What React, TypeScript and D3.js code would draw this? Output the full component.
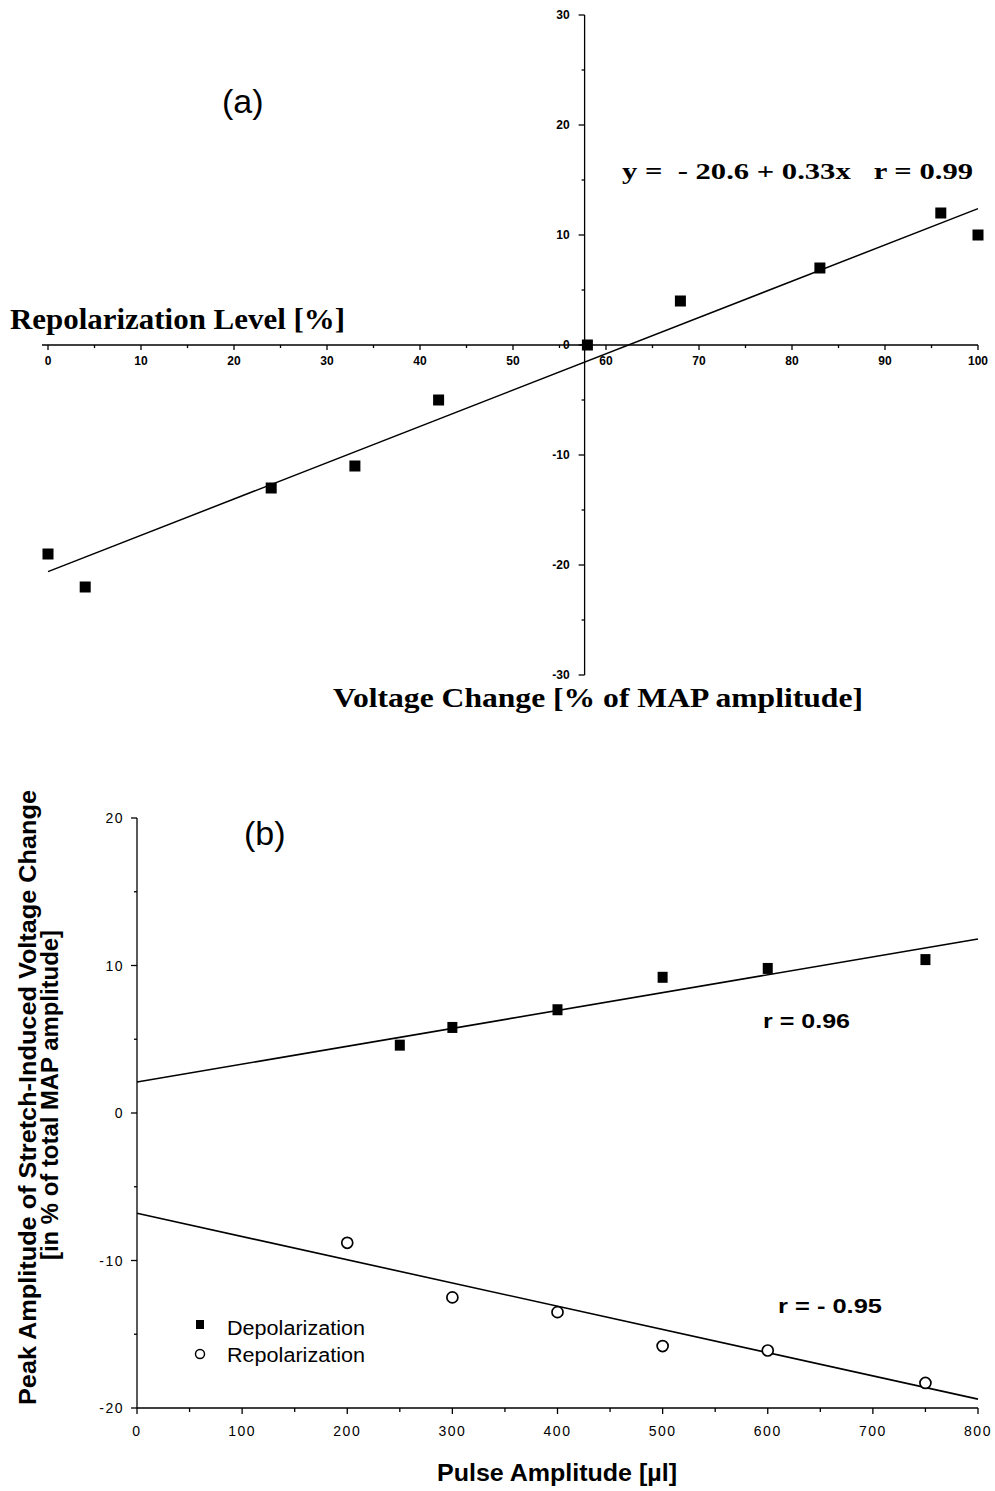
import React from 'react';
import * as d3 from 'd3';

// panel (a)
const voltX = [0, 4, 24, 33, 42, 58, 68, 83, 96, 100];
const repolLevel = [-19, -22, -13, -11, -5, 0, 4, 7, 12, 10];
const fitAX = [0, 100];
const fitAY = [-20.6, 12.4];
const aXTicks = [0, 10, 20, 30, 40, 50, 60, 70, 80, 90, 100];
const aYTicks = [-30, -20, -10, 0, 10, 20, 30];
const aYAxisAt = 57.7;

// panel (b)
const depolX = [250, 300, 400, 500, 600, 750];
const depolY = [4.6, 5.8, 7.0, 9.2, 9.8, 10.4];
const repolX = [200, 300, 400, 500, 600, 750];
const repolY = [-8.8, -12.5, -13.5, -15.8, -16.1, -18.3];
const fitBX = [0, 800];
const depolFit = [2.1, 11.8];
const repolFit = [-6.8, -19.4];
const bXTicks = [0, 100, 200, 300, 400, 500, 600, 700, 800];
const bYTicks = [-20, -10, 0, 10, 20];

const SERIF = '"Liberation Serif", "Times New Roman", serif';
const SANS = '"Liberation Sans", Arial, Helvetica, sans-serif';

const App = () => {
  const W = 995;
  const H = 1491;

  const xa = d3.scaleLinear().domain([0, 100]).range([48, 978]);
  const ya = d3.scaleLinear().domain([-30, 30]).range([675, 15]);
  const xb = d3.scaleLinear().domain([0, 800]).range([137, 978]);
  const yb = d3.scaleLinear().domain([-20, 20]).range([1408, 818]);

  const lineA = d3
    .line<number>()
    .x(d => xa(d))
    .y((d, i) => ya(fitAY[i]));
  const lineDep = d3
    .line<number>()
    .x(d => xb(d))
    .y((d, i) => yb(depolFit[i]));
  const lineRep = d3
    .line<number>()
    .x(d => xb(d))
    .y((d, i) => yb(repolFit[i]));

  const ax0 = xa(aYAxisAt);
  const ay0 = ya(0);
  const aMinorX = d3.range(5, 100, 10);
  const aMinorY = d3.range(-25, 30, 10);
  const bMinorX = d3.range(50, 800, 100);
  const bMinorY = d3.range(-15, 20, 10);

  return (
    <svg
      width={W}
      height={H}
      style={{ position: 'absolute', left: 0, top: 0, background: '#fff' }}
    >
      <rect width={W} height={H} fill="#fff" />

      {/* ---------- panel (a) ---------- */}
      <g stroke="#000" strokeWidth={1.3}>
        <line x1={42} x2={xa(100)} y1={ay0} y2={ay0} />
        <line x1={ax0} x2={ax0} y1={ya(30)} y2={ya(-30)} />
        {aXTicks.map(t => (
          <line key={'axt' + t} x1={xa(t)} x2={xa(t)} y1={ay0} y2={ay0 + 5} />
        ))}
        {aMinorX.map(t => (
          <line key={'axm' + t} x1={xa(t)} x2={xa(t)} y1={ay0} y2={ay0 + 3} />
        ))}
        {aYTicks.map(t => (
          <line key={'ayt' + t} x1={ax0 - 6} x2={ax0} y1={ya(t)} y2={ya(t)} />
        ))}
        {aMinorY.map(t => (
          <line key={'aym' + t} x1={ax0 - 3} x2={ax0} y1={ya(t)} y2={ya(t)} />
        ))}
      </g>
      <g fontFamily={SANS} fontSize={12} fontWeight="bold" fill="#000">
        {aXTicks.map(t => (
          <text key={'axl' + t} x={xa(t)} y={ay0 + 20} textAnchor="middle">
            {t}
          </text>
        ))}
        {aYTicks.map(t => (
          <text
            key={'ayl' + t}
            x={ax0 - 15}
            y={ya(t)}
            textAnchor="end"
            dominantBaseline="central"
          >
            {t}
          </text>
        ))}
      </g>
      <path d={lineA(fitAX) || ''} fill="none" stroke="#000" strokeWidth={1.5} />
      {voltX.map((x, i) => (
        <rect
          key={'pa' + i}
          x={xa(x) - 5.5}
          y={ya(repolLevel[i]) - 5.5}
          width={11}
          height={11}
          fill="#000"
        />
      ))}
      <text x={222} y={113} fontFamily={SANS} fontSize={34}>
        (a)
      </text>
      <text
        x={622}
        y={179}
        fontFamily={SERIF}
        fontSize={23}
        fontWeight="bold"
        textLength={351}
        lengthAdjust="spacingAndGlyphs"
        style={{ whiteSpace: 'pre' }}
      >
        {'y =  - 20.6 + 0.33x   r = 0.99'}
      </text>
      <text
        x={10}
        y={329}
        fontFamily={SERIF}
        fontSize={29}
        fontWeight="bold"
        textLength={335}
        lengthAdjust="spacingAndGlyphs"
      >
        Repolarization Level [%]
      </text>
      <text
        x={333}
        y={707}
        fontFamily={SERIF}
        fontSize={27}
        fontWeight="bold"
        textLength={530}
        lengthAdjust="spacingAndGlyphs"
      >
        Voltage Change [% of MAP amplitude]
      </text>

      {/* ---------- panel (b) ---------- */}
      <g stroke="#000" strokeWidth={1.3}>
        <line x1={xb(0)} x2={xb(800)} y1={yb(-20)} y2={yb(-20)} />
        <line x1={xb(0)} x2={xb(0)} y1={yb(20)} y2={yb(-20)} />
        {bXTicks.map(t => (
          <line key={'bxt' + t} x1={xb(t)} x2={xb(t)} y1={yb(-20)} y2={yb(-20) + 6} />
        ))}
        {bMinorX.map(t => (
          <line key={'bxm' + t} x1={xb(t)} x2={xb(t)} y1={yb(-20)} y2={yb(-20) + 4} />
        ))}
        {bYTicks.map(t => (
          <line key={'byt' + t} x1={xb(0) - 6} x2={xb(0)} y1={yb(t)} y2={yb(t)} />
        ))}
        {bMinorY.map(t => (
          <line key={'bym' + t} x1={xb(0) - 3} x2={xb(0)} y1={yb(t)} y2={yb(t)} />
        ))}
      </g>
      <g fontFamily={SANS} fontSize={14} fill="#000" letterSpacing={1.5}>
        {bXTicks.map(t => (
          <text key={'bxl' + t} x={xb(t)} y={yb(-20) + 28} textAnchor="middle">
            {t}
          </text>
        ))}
        {bYTicks.map(t => (
          <text
            key={'byl' + t}
            x={xb(0) - 13}
            y={yb(t)}
            textAnchor="end"
            dominantBaseline="central"
          >
            {t}
          </text>
        ))}
      </g>
      <path d={lineDep(fitBX) || ''} fill="none" stroke="#000" strokeWidth={1.6} />
      <path d={lineRep(fitBX) || ''} fill="none" stroke="#000" strokeWidth={1.6} />
      {depolX.map((x, i) => (
        <rect
          key={'dp' + i}
          x={xb(x) - 5}
          y={yb(depolY[i]) - 5.5}
          width={10}
          height={11}
          fill="#000"
        />
      ))}
      {repolX.map((x, i) => (
        <circle
          key={'rp' + i}
          cx={xb(x)}
          cy={yb(repolY[i])}
          r={5.5}
          fill="#fff"
          stroke="#000"
          strokeWidth={1.7}
        />
      ))}
      <text x={244} y={845} fontFamily={SANS} fontSize={34}>
        (b)
      </text>
      <g fontFamily={SANS} fontSize={20} fontWeight="bold" style={{ whiteSpace: 'pre' }}>
        <text x={763} y={1028} textLength={87} lengthAdjust="spacingAndGlyphs">
          {'r = 0.96'}
        </text>
        <text x={778} y={1313} textLength={104} lengthAdjust="spacingAndGlyphs">
          {'r = - 0.95'}
        </text>
      </g>
      {/* legend */}
      <rect x={196} y={1320} width={8} height={9} fill="#000" />
      <circle cx={200} cy={1354} r={4.5} fill="#fff" stroke="#000" strokeWidth={1.5} />
      <g fontFamily={SANS} fontSize={20}>
        <text x={227} y={1335} textLength={138} lengthAdjust="spacingAndGlyphs">
          Depolarization
        </text>
        <text x={227} y={1362} textLength={138} lengthAdjust="spacingAndGlyphs">
          Repolarization
        </text>
      </g>
      <text
        x={437}
        y={1481}
        fontFamily={SANS}
        fontSize={23}
        fontWeight="bold"
        textLength={240}
        lengthAdjust="spacingAndGlyphs"
      >
        Pulse Amplitude [µl]
      </text>
      <g fontFamily={SANS} fontSize={23} fontWeight="bold">
        <text
          transform="translate(36,1405) rotate(-90)"
          textLength={615}
          lengthAdjust="spacingAndGlyphs"
        >
          Peak Amplitude of Stretch-Induced Voltage Change
        </text>
        <text
          transform="translate(58,1260) rotate(-90)"
          textLength={330}
          lengthAdjust="spacingAndGlyphs"
        >
          [in % of total MAP amplitude]
        </text>
      </g>
    </svg>
  );
};

export default App;
